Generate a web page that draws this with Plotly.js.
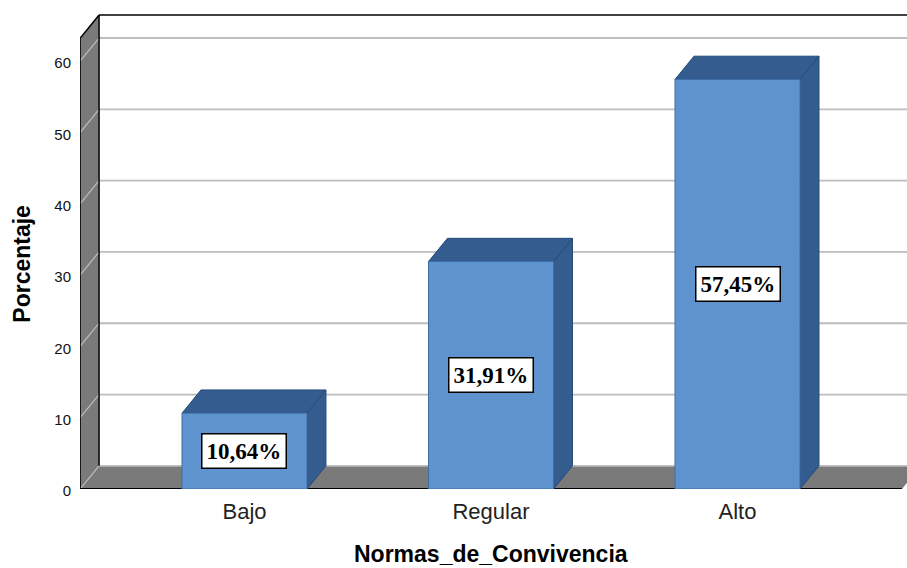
<!DOCTYPE html>
<html><head><meta charset="utf-8">
<script src="https://cdn.plot.ly/plotly-3.0.1.min.js"></script>
<style>html,body{margin:0;padding:0;background:#fff;overflow:hidden;width:907px;height:568px}</style>
</head><body><div id="chart" style="width:940px;height:568px"></div>
<script>
const categories = ["Bajo", "Regular", "Alto"];
const percentages = [10.64, 31.91, 57.45];
const valueLabels = ["10,64%", "31,91%", "57,45%"];
const yTicks = [0, 10, 20, 30, 40, 50, 60];

const xPos = categories.map((_, i) => i);
const barW = 0.507, dx = 0.077, dy = 3.25;
const xL = -0.667, xR = 2.667, yTop = 63.22;

const front = "#5f93ce", dark = "#345c8f", edge = "#234a7a", wall = "#7a7a7a", grid = "#bdbdbd";
const poly = (pts, fill, lineCol, lw) => ({
  type: "path", xref: "x", yref: "y", layer: "below",
  path: "M" + pts.map(p => p[0] + "," + p[1]).join(" L") + " Z",
  fillcolor: fill, line: {color: lineCol || fill, width: lw === undefined ? 0 : lw}
});
const seg = (x0, y0, x1, y1, col, w) => ({
  type: "line", xref: "x", yref: "y", layer: "below", x0, y0, x1, y1, line: {color: col, width: w}
});

const shapes = [];
shapes.push(poly([[xL, 0], [xL + dx, dy], [xL + dx, yTop + dy], [xL, yTop]], wall));
shapes.push(poly([[xL, 0], [xL + dx, dy], [xR + dx, dy], [xR, 0]], wall));
yTicks.forEach(t => {
  shapes.push(seg(xL, t, xL + dx, t + dy, grid, 1.2));
  shapes.push(seg(xL + dx, t + dy, xR + dx, t + dy, grid, 1.8));
});
shapes.push(seg(xL, 0, xL, yTop, "#000", 1.5));
shapes.push(seg(xL, 0, xR, 0, "#000", 2));
shapes.push(seg(xL, yTop, xL + dx, yTop + dy, "#000", 1.5));
shapes.push(seg(xL + dx, dy, xL + dx, yTop + dy, "#000", 1.5));
shapes.push(seg(xL + dx, yTop + dy, xR + dx, yTop + dy, "#000", 1.5));
xPos.forEach((x, i) => {
  const v = percentages[i], l = x - barW / 2, r = x + barW / 2;
  shapes.push(poly([[r, 0], [r + dx, dy], [r + dx, v + dy], [r, v]], dark, edge, 1));
  shapes.push(poly([[l, v], [l + dx, v + dy], [r + dx, v + dy], [r, v]], dark, edge, 1));
});

const annotations = xPos.map((x, i) => ({
  x, y: percentages[i] / 2, xref: "x", yref: "y", text: valueLabels[i], showarrow: false,
  bgcolor: "#fff", bordercolor: "#000", borderwidth: 1.5, borderpad: 4,
  font: {family: "Liberation Serif", size: 23, color: "#000", weight: 700}
}));
annotations.push({
  x: 1, y: 0, xref: "x", yref: "y", yanchor: "middle", yshift: -65, showarrow: false,
  text: "Normas_de_Convivencia",
  font: {family: "Liberation Sans", size: 23, color: "#000", weight: 700}
});
annotations.push({
  x: xL, y: yTop / 2, xref: "x", yref: "y", xanchor: "center", xshift: -58, textangle: -90, showarrow: false,
  text: "Porcentaje",
  font: {family: "Liberation Sans", size: 23, color: "#000", weight: 700}
});

Plotly.newPlot("chart", [{
  type: "bar", x: xPos, y: percentages, width: barW,
  marker: {color: front, line: {color: "#3f6fa8", width: 1}}, hoverinfo: "skip"
}], {
  width: 940, height: 568, showlegend: false,
  margin: {l: 80, r: 0, t: 10, b: 79},
  paper_bgcolor: "#fff", plot_bgcolor: "#fff",
  xaxis: {
    range: [-0.6673, 2.8215], tickmode: "array", tickvals: xPos, ticktext: categories,
    showgrid: false, zeroline: false, showline: false, ticks: "", ticklabelstandoff: 7,
    tickfont: {family: "Liberation Sans", size: 22, color: "#222"}
  },
  yaxis: {
    range: [0, 67.18], tickmode: "array", tickvals: yTicks,
    showgrid: false, zeroline: false, showline: false, ticks: "", ticklabelstandoff: 8, ticklabelshift: 2,
    tickfont: {family: "Liberation Sans", size: 15, color: "#111"}
  },
  shapes, annotations
}, {staticPlot: true, displayModeBar: false});
</script></body></html>
